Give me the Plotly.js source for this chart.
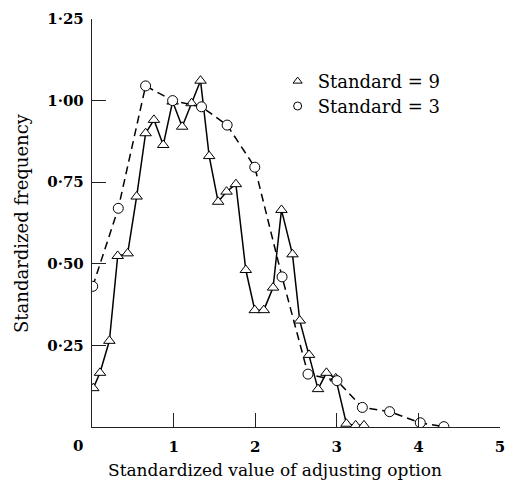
<!DOCTYPE html>
<html>
<head>
<meta charset="utf-8">
<script src="https://cdn.plot.ly/plotly-3.0.1.min.js"></script>
<style>
  html, body { margin: 0; padding: 0; background: #ffffff; }
  #chart { width: 508px; height: 484px; }
</style>
</head>
<body>
<div id="chart"></div>
<script>
// Standard = 9 (triangles, solid line)
var std9X = [0.016, 0.098, 0.213, 0.315, 0.437, 0.547, 0.657, 0.759, 0.873, 0.988,
             1.105, 1.220, 1.330, 1.436, 1.546, 1.649, 1.763, 1.885, 1.995, 2.105,
             2.219, 2.322, 2.457, 2.546, 2.660, 2.770, 2.873, 2.987, 3.118, 3.231, 3.333];
var std9Y = [0.119, 0.166, 0.264, 0.524, 0.532, 0.706, 0.900, 0.941, 0.864, 0.997,
             0.920, 0.992, 1.061, 0.830, 0.690, 0.721, 0.744, 0.481, 0.358, 0.358,
             0.427, 0.665, 0.529, 0.326, 0.221, 0.116, 0.166, 0.149, 0.010, 0.005, 0.005];

// Standard = 3 (circles, dashed line)
var std3X = [0.009, 0.322, 0.657, 0.988, 1.342, 1.656, 1.995, 2.329, 2.647, 3.002,
             3.313, 3.647, 4.023, 4.312];
var std3Y = [0.431, 0.670, 1.045, 1.000, 0.981, 0.925, 0.796, 0.460, 0.162, 0.142,
             0.060, 0.047, 0.013, 0.001];

var seriesNames = ['Standard = 9', 'Standard = 3'];

var xTickVals = [1, 2, 3, 4, 5];
var xTickText = ['1', '2', '3', '4', '5'];
var yTickVals = [0, 0.25, 0.5, 0.75, 1.0, 1.25];
var yTickText = ['', '0\u00b725', '0\u00b750', '0\u00b775', '1\u00b700', '1\u00b725'];

var serif = '"DejaVu Serif"';

var traces = [
  {
    x: std9X, y: std9Y, mode: 'lines+markers', showlegend: false,
    line: { color: '#000', width: 1.5 },
    marker: { symbol: 'triangle-up', size: 10, color: '#fff', line: { color: '#000', width: 1 } }
  },
  {
    x: std3X, y: std3Y, mode: 'lines+markers', showlegend: false,
    line: { color: '#000', width: 1.5, dash: '8px,5px' },
    marker: { symbol: 'circle', size: 10, color: '#fff', line: { color: '#000', width: 1 } }
  },
  // legend entries (marker only)
  {
    x: [null], y: [null], mode: 'markers', name: seriesNames[0], legend: 'legend',
    marker: { symbol: 'triangle-up', size: 8, color: '#fff', line: { color: '#000', width: 1 } }
  },
  {
    x: [null], y: [null], mode: 'markers', name: seriesNames[1], legend: 'legend2',
    marker: { symbol: 'circle', size: 8, color: '#fff', line: { color: '#000', width: 1 } }
  }
];

var legendBase = {
  bgcolor: 'rgba(0,0,0,0)', borderwidth: 0,
  font: { family: serif, size: 18, color: '#000' },
  xanchor: 'left', yanchor: 'middle', xref: 'paper', yref: 'paper'
};

var layout = {
  width: 508, height: 484,
  margin: { l: 92, r: 8, t: 19, b: 57 },
  paper_bgcolor: '#fff', plot_bgcolor: '#fff',
  font: { family: serif, color: '#000' },
  xaxis: {
    range: [0, 5], showgrid: false, zeroline: false,
    showline: true, linecolor: '#222', linewidth: 1.2,
    ticks: 'inside', ticklen: 14, tickwidth: 1, tickcolor: '#222',
    tickvals: xTickVals, ticktext: xTickText, ticklabelstandoff: 6,
    tickfont: { family: serif, size: 15, color: '#000', weight: 'bold' }
  },
  yaxis: {
    range: [0, 1.25], showgrid: false, zeroline: false,
    showline: true, linecolor: '#222', linewidth: 1.2,
    ticks: 'inside', ticklen: 14, tickwidth: 1, tickcolor: '#222',
    tickvals: yTickVals, ticktext: yTickText, ticklabelstandoff: 4,
    tickfont: { family: serif, size: 15, color: '#000', weight: 'bold' }
  },
  legend: Object.assign({}, legendBase, { x: 0.455, y: 0.847 }),
  legend2: Object.assign({}, legendBase, { x: 0.455, y: 0.786 }),
  annotations: [
    {
      text: 'Standardized value of adjusting option', xref: 'paper', yref: 'paper',
      x: 0.449, y: -0.105, yanchor: 'middle', xanchor: 'center', showarrow: false,
      font: { family: serif, size: 17, color: '#000' }
    },
    {
      text: 'Standardized frequency', xref: 'paper', yref: 'paper', textangle: -90,
      x: -0.174, y: 0.5, xanchor: 'center', yanchor: 'middle', showarrow: false,
      font: { family: serif, size: 18, color: '#000' }
    },
    {
      text: '0', xref: 'paper', yref: 'paper', x: -0.034, y: -0.047,
      xanchor: 'center', yanchor: 'middle', showarrow: false,
      font: { family: serif, size: 15, color: '#000', weight: 'bold' }
    }
  ]
};

Plotly.newPlot('chart', traces, layout, { displayModeBar: false, staticPlot: true });
</script>
</body>
</html>
